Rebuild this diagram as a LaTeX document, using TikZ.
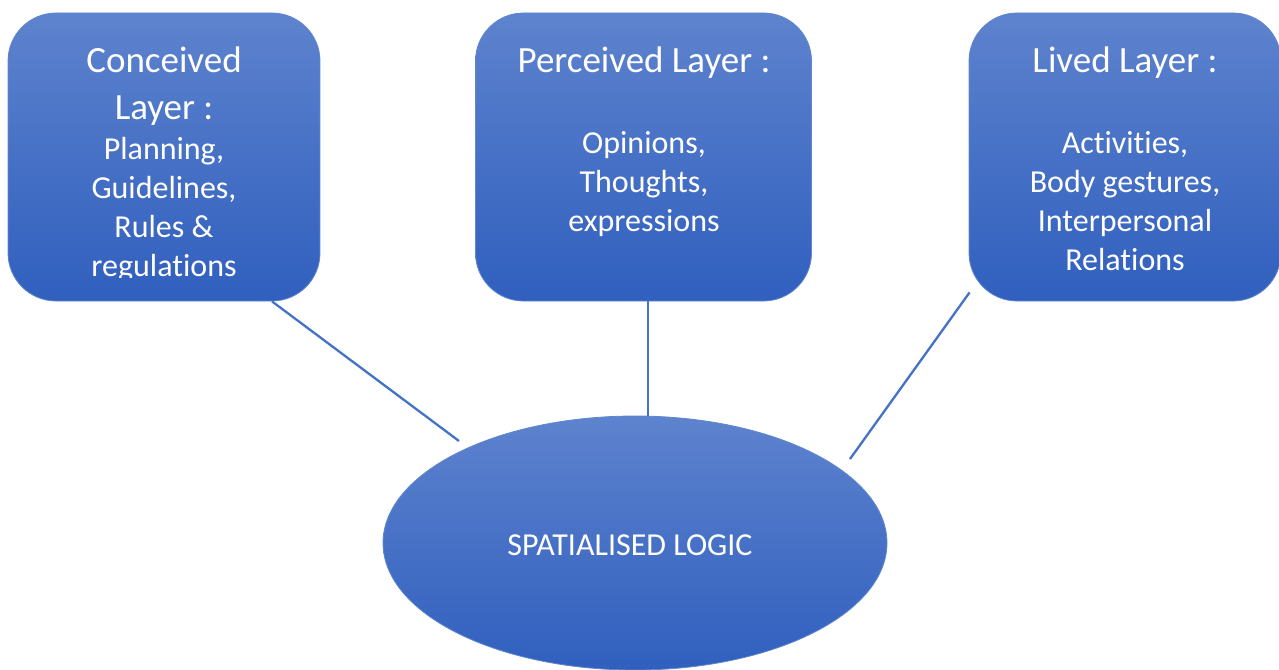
\documentclass[tikz,border=0pt]{standalone}
\usepackage{fontspec}
\setmainfont{Carlito}[Ligatures={NoCommon}]
\usepackage{tikz}
\usetikzlibrary{shapes.geometric}
\definecolor{boxtop}{RGB}{94,131,206}
\definecolor{boxbot}{RGB}{48,95,190}
\definecolor{edgeblue}{RGB}{68,114,196}
\tikzset{
  layerbox/.style={draw=edgeblue!85!white, line width=0.8pt, rounded corners=48pt,
    top color=boxtop, bottom color=boxbot, inner sep=0pt, minimum height=288pt},
  headtxt/.style={text=white, font=\fontsize{37}{45}\selectfont, anchor=base, inner sep=0pt},
  bodytxt/.style={text=white, font=\fontsize{32}{39}\selectfont, anchor=base, inner sep=0pt},
  link/.style={draw=edgeblue, line width=2.3pt}
}
\begin{document}
\begin{tikzpicture}[x=1pt,y=-1pt]
\useasboundingbox (0,0) rectangle (1279,669);
\clip (0,0) rectangle (1279,669);
\node [layerbox, minimum width=312pt] (conc) at (164,157) {};
\node [layerbox, minimum width=336pt] (perc) at (643.5,157) {};
\node [layerbox, minimum width=312pt] (lived) at (1125,157) {};
\node [ellipse, draw=edgeblue!85!white, line width=0.8pt, top color=boxtop, bottom color=boxbot,
  minimum width=504pt, minimum height=254pt, inner sep=0pt] (logic) at (635,543) {};
\coordinate (concend) at (459,441);
\coordinate (livedend) at (850,459);
\draw [link] ([xshift=108pt]conc.south) -- (concend);
\draw [link] ([xshift=4.5pt]perc.south) -- ([xshift=4.5pt]perc.south |- logic.north);
\draw [link] ([shift={(1,-9)}]lived.south west) -- (livedend);
\node [headtxt] (conc1) at (164,73) {Conceived};
\node [headtxt] (conc2) at (164,119) {Layer :};
\node [bodytxt] (conc3) at (164,159) {Planning,};
\node [bodytxt] (conc4) at (164,198) {Guidelines,};
\node [bodytxt] (conc5) at (164,237) {Rules \&};
\begin{scope}
\clip (0,0) rectangle (1279,277);
\node [bodytxt] (conc6) at (164,276) {regulations};
\end{scope}
\node [headtxt] (perc1) at (644,73) {Perceived Layer :};
\node [bodytxt] (perc2) at (644,153) {Opinions,};
\node [bodytxt] (perc3) at (644,192) {Thoughts,};
\node [bodytxt] (perc4) at (644,231) {expressions};
\node [headtxt] (lived1) at (1125,73) {Lived Layer :};
\node [bodytxt] (lived2) at (1125,153) {Activities,};
\node [bodytxt] (lived3) at (1125,192) {Body gestures,};
\node [bodytxt] (lived4) at (1125,231) {Interpersonal};
\node [bodytxt] (lived5) at (1125,270) {Relations};
\node [bodytxt] (logic1) at (630,555) {SPATIALISED LOGIC};
\end{tikzpicture}
\end{document}
